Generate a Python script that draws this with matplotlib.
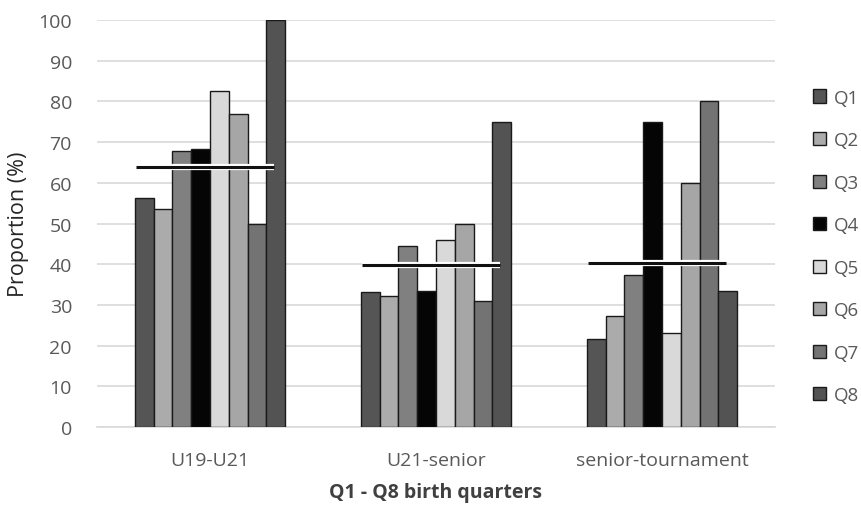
import matplotlib
matplotlib.use("Agg")
import matplotlib.pyplot as plt
import numpy as np

plt.rcParams['font.family'] = ['Open Sans', 'DejaVu Sans']

categories = ["U19-U21", "U21-senior", "senior-tournament"]
series_names = ["Q1", "Q2", "Q3", "Q4", "Q5", "Q6", "Q7", "Q8"]
q1 = [56.3, 33.2, 21.6]
q2 = [53.6, 32.1, 27.2]
q3 = [67.8, 44.5, 37.3]
q4 = [68.3, 33.3, 75.0]
q5 = [82.5, 46.0, 23.0]
q6 = [76.9, 50.0, 60.0]
q7 = [50.0, 30.9, 80.0]
q8 = [100.0, 75.0, 33.3]
averages = [64.0, 39.8, 40.3]
colors = ["#555555", "#ababab", "#808080", "#050505", "#d9d9d9", "#a6a6a6", "#737373", "#535353"]

series = [q1, q2, q3, q4, q5, q6, q7, q8]

fig = plt.figure(figsize=(8.61, 5.06), dpi=100)
ax = fig.add_axes([97/861, 1 - 428/506, (775-97)/861, (428-21)/506])

x = np.arange(len(categories))
n = len(series)
group_w = 0.665
bw = group_w / n
for i, (vals, c, name) in enumerate(zip(series, colors, series_names)):
    ax.bar(x - group_w/2 + bw*(i+0.5), vals, width=bw, color=c,
           edgecolor="#1a1a1a", linewidth=1.0, label=name, zorder=3)

for xi, avg in zip(x, averages):
    x0 = xi - group_w/2 + 0.003
    x1 = xi + group_w/2 - bw*0.6
    ax.plot([x0, x1], [avg, avg], color="white", linewidth=4.5, zorder=4, solid_capstyle='butt')
    ax.plot([x0, x1], [avg, avg], color="#111111", linewidth=2.2, zorder=5, solid_capstyle='butt')

ax.set_xlim(-0.5, 2.5)
ax.set_ylim(0, 100)
ax.set_yticks(np.arange(0, 101, 10))
ax.set_xticks(x)
ax.set_xticklabels(categories)
ax.grid(axis='y', color="#d9d9d9", linewidth=1.2, zorder=0)
for s in ["top", "right", "left"]:
    ax.spines[s].set_visible(False)
ax.spines["bottom"].set_color("#d9d9d9")
ax.spines["bottom"].set_linewidth(1.2)
ax.tick_params(axis='both', length=0, labelsize=14, colors="#595959")
ax.tick_params(axis='y', pad=18)
ax.tick_params(axis='x', pad=17)
ax.set_ylabel("Proportion (%)", fontsize=15.5, color="#262626", labelpad=7)
ax.set_xlabel("Q1 - Q8 birth quarters", fontsize=14, fontweight='bold', color="#404040", labelpad=10)

leg = ax.legend(loc='upper left', bbox_to_anchor=(1.045, 0.85), frameon=False,
                fontsize=13.5, labelspacing=1.31, handlelength=0.7, handleheight=0.7,
                handletextpad=0.4, labelcolor="#595959", borderaxespad=0.0)

fig.savefig("out.png", dpi=100)
